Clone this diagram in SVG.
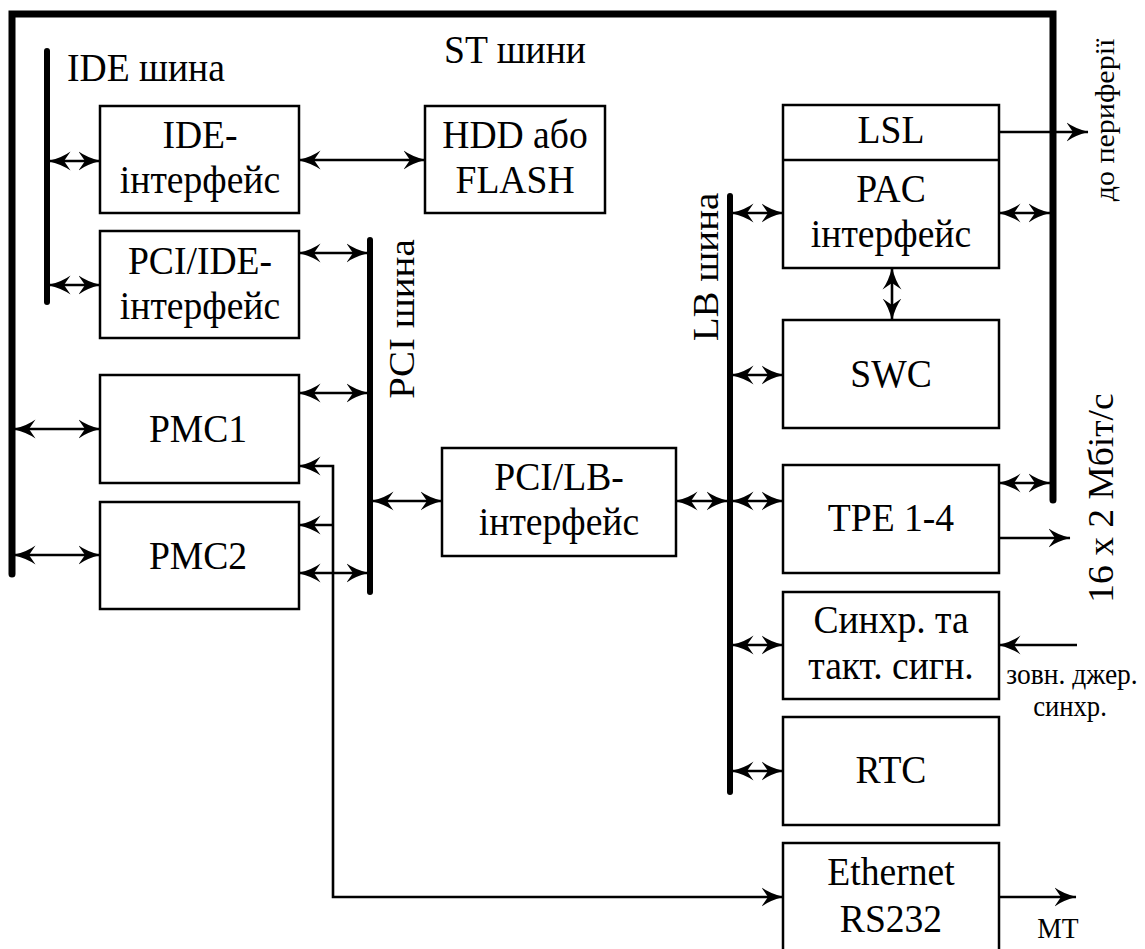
<svg xmlns="http://www.w3.org/2000/svg" width="1145" height="949" viewBox="0 0 1145 949">
  <style>
    .box { fill: #fff; stroke: #000; stroke-width: 2.5; }
    .bus { fill: none; stroke: #000; stroke-linecap: round; }
    .wire { fill: none; stroke: #000; stroke-width: 2.6; }
    text { fill: #000; font-family: 'Liberation Serif', 'Times New Roman', serif; }
    .lbl { font-size: 40px; text-anchor: middle; }
    .cap { font-size: 40px; }
    .rot { font-size: 39px; text-anchor: middle; }
    .rot-s { font-size: 30px; text-anchor: middle; }
    .rot-m { font-size: 37.5px; text-anchor: middle; }
    .sm { font-size: 29px; text-anchor: middle; }
  </style>
  <defs>
    <marker id="ah" viewBox="0 0 22 20" refX="21.5" refY="10" markerWidth="22" markerHeight="20" markerUnits="userSpaceOnUse" orient="auto-start-reverse">
      <path d="M0,0.5 Q8,6.5 22,10 Q8,13.5 0,19.5 L6.5,10 Z" fill="#000"/>
    </marker>
  </defs>

  <!-- buses -->
  <g id="buses">
    <path id="st-bus" class="bus" stroke-width="7" d="M12,574 V14 H1053 V500"/>
    <line id="ide-bus" class="bus" stroke-width="6" x1="47" y1="51" x2="47" y2="302"/>
    <line id="pci-bus" class="bus" stroke-width="6" x1="370" y1="240" x2="370" y2="592"/>
    <line id="lb-bus" class="bus" stroke-width="6" x1="730" y1="196" x2="730" y2="792"/>
  </g>

  <!-- bus captions and signal labels -->
  <g id="captions">
    <text class="cap" transform="translate(67,81) scale(0.94,1)">IDE шина</text>
    <text class="cap" text-anchor="middle" transform="translate(515,63) scale(0.94,1)">ST шини</text>
    <text class="rot" transform="translate(414,319) rotate(-90) scale(1,0.94)">PCI шина</text>
    <text class="rot" transform="translate(718,267) rotate(-90) scale(1,0.94)">LB шина</text>
    <text class="rot-s" transform="translate(1114,120) rotate(-90) scale(1,0.94)">до периферії</text>
    <text class="rot-m" transform="translate(1113,498) rotate(-90) scale(1,0.94)">16 x 2 Мбіт/с</text>
    <text class="sm" transform="translate(1072,684) scale(0.95,1)">зовн. джер.</text>
    <text class="sm" transform="translate(1070,716) scale(0.92,1)">синхр.</text>
    <text class="sm" transform="translate(1058,938) scale(0.95,1)">МТ</text>
  </g>

  <!-- connectors -->
  <g id="connectors">
    <line class="wire" x1="49" y1="161" x2="100" y2="161" marker-start="url(#ah)" marker-end="url(#ah)"/>
    <line class="wire" x1="49" y1="285" x2="100" y2="285" marker-start="url(#ah)" marker-end="url(#ah)"/>
    <line class="wire" x1="299" y1="160" x2="425" y2="160" marker-start="url(#ah)" marker-end="url(#ah)"/>
    <line class="wire" x1="299" y1="253" x2="368" y2="253" marker-start="url(#ah)" marker-end="url(#ah)"/>
    <line class="wire" x1="299" y1="393" x2="368" y2="393" marker-start="url(#ah)" marker-end="url(#ah)"/>
    <line class="wire" x1="299" y1="573" x2="368" y2="573" marker-start="url(#ah)" marker-end="url(#ah)"/>
    <line class="wire" x1="14" y1="429" x2="100" y2="429" marker-start="url(#ah)" marker-end="url(#ah)"/>
    <line class="wire" x1="14" y1="555" x2="100" y2="555" marker-start="url(#ah)" marker-end="url(#ah)"/>
    <line class="wire" x1="372" y1="501" x2="442" y2="501" marker-start="url(#ah)" marker-end="url(#ah)"/>
    <line class="wire" x1="676" y1="501" x2="728" y2="501" marker-start="url(#ah)" marker-end="url(#ah)"/>
    <line class="wire" x1="732" y1="213" x2="783" y2="213" marker-start="url(#ah)" marker-end="url(#ah)"/>
    <line class="wire" x1="999" y1="213" x2="1050" y2="213" marker-start="url(#ah)" marker-end="url(#ah)"/>
    <line class="wire" x1="892" y1="268" x2="892" y2="320" marker-start="url(#ah)" marker-end="url(#ah)"/>
    <line class="wire" x1="732" y1="375" x2="783" y2="375" marker-start="url(#ah)" marker-end="url(#ah)"/>
    <line class="wire" x1="732" y1="501" x2="783" y2="501" marker-start="url(#ah)" marker-end="url(#ah)"/>
    <line class="wire" x1="999" y1="483" x2="1050" y2="483" marker-start="url(#ah)" marker-end="url(#ah)"/>
    <line class="wire" x1="732" y1="645" x2="783" y2="645" marker-start="url(#ah)" marker-end="url(#ah)"/>
    <line class="wire" x1="732" y1="771" x2="783" y2="771" marker-start="url(#ah)" marker-end="url(#ah)"/>
    <line class="wire" x1="999" y1="132" x2="1088" y2="132" marker-end="url(#ah)"/>
    <line class="wire" x1="999" y1="538" x2="1070" y2="538" marker-end="url(#ah)"/>
    <line class="wire" x1="1077" y1="645" x2="999" y2="645" marker-end="url(#ah)"/>
    <line class="wire" x1="999" y1="897" x2="1076" y2="897" marker-end="url(#ah)"/>
    <path class="wire" d="M299,466 H333 V897 H783" marker-start="url(#ah)" marker-end="url(#ah)"/>
    <line class="wire" x1="333" y1="525" x2="299" y2="525" marker-end="url(#ah)"/>
  </g>

  <!-- nodes -->
  <g id="ide-if">
    <rect class="box" x="100" y="106" width="199" height="107"/>
    <text class="lbl" transform="translate(200,148) scale(0.94,1)">IDE-</text>
    <text class="lbl" transform="translate(200,193) scale(0.94,1)">інтерфейс</text>
  </g>
  <g id="hdd">
    <rect class="box" x="425" y="106" width="180" height="107"/>
    <text class="lbl" transform="translate(515,148) scale(0.94,1)">HDD або</text>
    <text class="lbl" transform="translate(515,193) scale(0.94,1)">FLASH</text>
  </g>
  <g id="pci-ide">
    <rect class="box" x="100" y="231" width="199" height="107"/>
    <text class="lbl" transform="translate(200,274) scale(0.94,1)">PCI/IDE-</text>
    <text class="lbl" transform="translate(200,319) scale(0.94,1)">інтерфейс</text>
  </g>
  <g id="pmc1">
    <rect class="box" x="100" y="375" width="199" height="108"/>
    <text class="lbl" transform="translate(198,442) scale(0.94,1)">PMC1</text>
  </g>
  <g id="pmc2">
    <rect class="box" x="100" y="502" width="199" height="107"/>
    <text class="lbl" transform="translate(198,569) scale(0.94,1)">PMC2</text>
  </g>
  <g id="pci-lb">
    <rect class="box" x="442" y="448" width="234" height="108"/>
    <text class="lbl" transform="translate(559,490) scale(0.94,1)">PCI/LB-</text>
    <text class="lbl" transform="translate(559,535) scale(0.94,1)">інтерфейс</text>
  </g>
  <g id="lsl-pac">
    <rect class="box" x="783" y="105" width="216" height="163"/>
    <line class="wire" x1="783" y1="160" x2="999" y2="160"/>
    <text class="lbl" transform="translate(891,143) scale(0.94,1)">LSL</text>
    <text class="lbl" transform="translate(891,202) scale(0.94,1)">PAC</text>
    <text class="lbl" transform="translate(891,247) scale(0.94,1)">інтерфейс</text>
  </g>
  <g id="swc">
    <rect class="box" x="783" y="320" width="216" height="108"/>
    <text class="lbl" transform="translate(891,387) scale(0.94,1)">SWC</text>
  </g>
  <g id="tpe">
    <rect class="box" x="783" y="465" width="216" height="108"/>
    <text class="lbl" transform="translate(891,531) scale(0.94,1)">TPE 1-4</text>
  </g>
  <g id="sync">
    <rect class="box" x="783" y="592" width="216" height="107"/>
    <text class="lbl" transform="translate(891,633) scale(0.94,1)">Синхр. та</text>
    <text class="lbl" transform="translate(891,679) scale(0.94,1)">такт. сигн.</text>
  </g>
  <g id="rtc">
    <rect class="box" x="783" y="717" width="216" height="108"/>
    <text class="lbl" transform="translate(891,783) scale(0.94,1)">RTC</text>
  </g>
  <g id="eth">
    <rect class="box" x="783" y="843" width="216" height="120"/>
    <text class="lbl" transform="translate(891,885) scale(0.94,1)">Ethernet</text>
    <text class="lbl" transform="translate(891,932) scale(0.94,1)">RS232</text>
  </g>
</svg>
